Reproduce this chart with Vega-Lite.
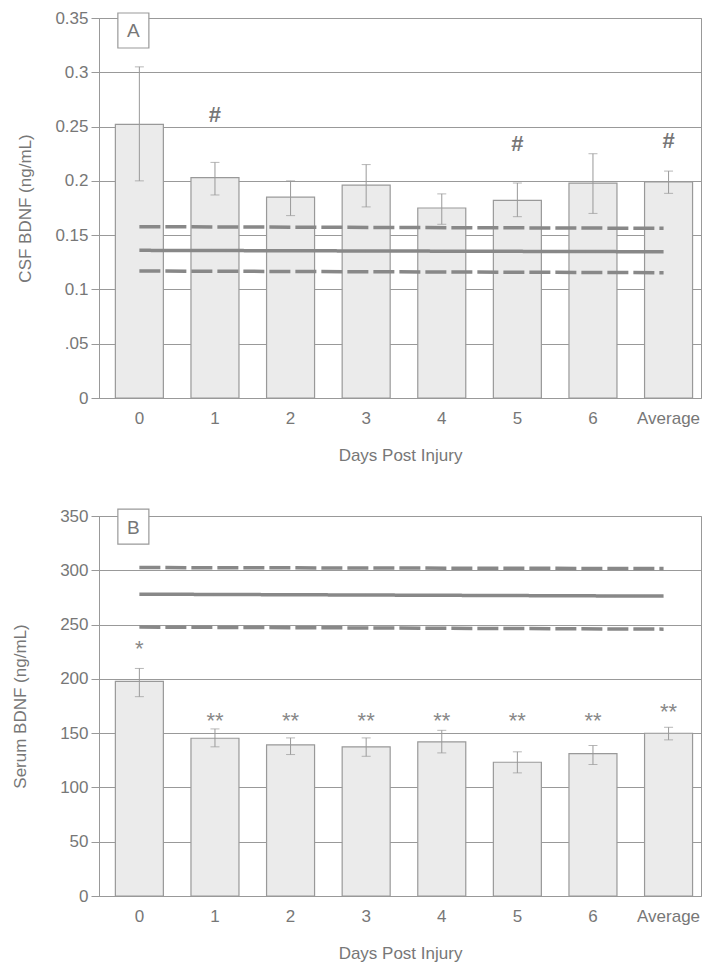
{
  "$schema": "https://vega.github.io/schema/vega-lite/v6.json",
  "padding": {"left": 11, "top": 8, "right": 5, "bottom": 5},
  "spacing": 42,
  "config": {
    "font": "Liberation Sans",
    "view": {"stroke": "#999", "strokeWidth": 1},
    "axis": {
      "labelColor": "#777", "titleColor": "#777",
      "labelFont": "Liberation Sans", "titleFont": "Liberation Sans",
      "labelFontSize": 17, "titleFontSize": 17, "titleFontWeight": "normal",
      "gridColor": "#999", "gridOpacity": 1, "gridWidth": 1,
      "domainColor": "#999", "tickColor": "#999"
    }
  },
  "datasets": {
    "csf": [
      {"day": "0", "mean": 0.252, "lo": 0.200, "hi": 0.305},
      {"day": "1", "mean": 0.203, "lo": 0.187, "hi": 0.217},
      {"day": "2", "mean": 0.185, "lo": 0.168, "hi": 0.200},
      {"day": "3", "mean": 0.196, "lo": 0.176, "hi": 0.215},
      {"day": "4", "mean": 0.175, "lo": 0.160, "hi": 0.188},
      {"day": "5", "mean": 0.182, "lo": 0.167, "hi": 0.198},
      {"day": "6", "mean": 0.198, "lo": 0.170, "hi": 0.225},
      {"day": "Average", "mean": 0.199, "lo": 0.1885, "hi": 0.209}
    ],
    "csf_sig": [
      {"day": "1", "pos": 0.261, "mark": "#"},
      {"day": "5", "pos": 0.2336, "mark": "#"},
      {"day": "Average", "pos": 0.237, "mark": "#"}
    ],
    "csf_lines": [
      {"kind": "limit", "day": "0", "day_end": "Average", "y0": 0.1578, "y1": 0.1563},
      {"kind": "mean", "day": "0", "day_end": "Average", "y0": 0.136, "y1": 0.1347},
      {"kind": "limit", "day": "0", "day_end": "Average", "y0": 0.117, "y1": 0.1154}
    ],
    "csf_label": [{"day": "0", "pos": 0.3385, "label": "A"}],
    "serum": [
      {"day": "0", "mean": 197.7, "lo": 183.6, "hi": 209.6},
      {"day": "1", "mean": 145.3, "lo": 137.4, "hi": 153.9},
      {"day": "2", "mean": 139.2, "lo": 130.3, "hi": 145.6},
      {"day": "3", "mean": 137.4, "lo": 128.7, "hi": 145.6},
      {"day": "4", "mean": 142.0, "lo": 131.8, "hi": 152.6},
      {"day": "5", "mean": 123.2, "lo": 113.4, "hi": 132.8},
      {"day": "6", "mean": 131.2, "lo": 121.1, "hi": 138.6},
      {"day": "Average", "mean": 149.9, "lo": 143.8, "hi": 155.4}
    ],
    "serum_sig": [
      {"day": "0", "pos": 233, "mark": "*"},
      {"day": "1", "pos": 167, "mark": "**"},
      {"day": "2", "pos": 167, "mark": "**"},
      {"day": "3", "pos": 167, "mark": "**"},
      {"day": "4", "pos": 167, "mark": "**"},
      {"day": "5", "pos": 167, "mark": "**"},
      {"day": "6", "pos": 167, "mark": "**"},
      {"day": "Average", "pos": 174.7, "mark": "**"}
    ],
    "serum_lines": [
      {"kind": "limit", "day": "0", "day_end": "Average", "y0": 302.5, "y1": 301.6},
      {"kind": "mean", "day": "0", "day_end": "Average", "y0": 278, "y1": 276.2},
      {"kind": "limit", "day": "0", "day_end": "Average", "y0": 247.7, "y1": 245.8}
    ],
    "serum_label": [{"day": "0", "pos": 340.2, "label": "B"}]
  },
  "vconcat": [
    {
      "width": 602,
      "height": 380,
      "layer": [
        {
          "data": {"name": "csf"},
          "mark": {"type": "bar", "fill": "#ebebeb", "stroke": "#999", "strokeWidth": 1.2},
          "encoding": {
            "x": {
              "field": "day", "type": "ordinal", "sort": null,
              "scale": {"domain": ["0", "1", "2", "3", "4", "5", "6", "Average"], "paddingInner": 0.365, "paddingOuter": 0.164, "align": 0.66},
              "axis": {"title": "Days Post Injury", "labelAngle": 0, "ticks": false, "domain": false, "grid": false, "labelPadding": 12, "titlePadding": 21}
            },
            "y": {
              "field": "mean", "type": "quantitative",
              "scale": {"domain": [0, 0.35], "nice": false, "zero": true},
              "axis": {
                "title": "CSF BDNF (ng/mL)",
                "values": [0, 0.05, 0.1, 0.15, 0.2, 0.25, 0.3, 0.35],
                "labelExpr": "datum.value == 0.05 ? '.05' : format(datum.value, '~g')",
                "tickSize": 8, "labelPadding": 3, "titlePadding": 20, "grid": true, "domain": true
              }
            }
          }
        },
        {
          "data": {"name": "csf"},
          "mark": {"type": "rule", "color": "#999", "strokeWidth": 1},
          "encoding": {
            "x": {"field": "day", "type": "ordinal", "sort": null},
            "y": {"field": "lo", "type": "quantitative"},
            "y2": {"field": "hi"}
          }
        },
        {
          "data": {"name": "csf"},
          "mark": {"type": "tick", "color": "#999", "thickness": 1, "size": 9, "orient": "horizontal"},
          "encoding": {
            "x": {"field": "day", "type": "ordinal", "sort": null},
            "y": {"field": "lo", "type": "quantitative"}
          }
        },
        {
          "data": {"name": "csf"},
          "mark": {"type": "tick", "color": "#999", "thickness": 1, "size": 9, "orient": "horizontal"},
          "encoding": {
            "x": {"field": "day", "type": "ordinal", "sort": null},
            "y": {"field": "hi", "type": "quantitative"}
          }
        },
        {
          "data": {"name": "csf_lines"},
          "mark": {"type": "rule", "color": "#888", "strokeWidth": 3.5, "x2Offset": -5},
          "encoding": {
            "x": {"field": "day", "type": "ordinal", "sort": null},
            "x2": {"field": "day_end"},
            "y": {"field": "y0", "type": "quantitative"},
            "y2": {"field": "y1"},
            "strokeDash": {"field": "kind", "type": "nominal", "scale": {"domain": ["mean", "limit"], "range": [[1, 0], [21, 5]]}, "legend": null}
          }
        },
        {
          "data": {"name": "csf_sig"},
          "mark": {"type": "text", "fontSize": 22, "fontWeight": "bold", "color": "#777", "baseline": "middle"},
          "encoding": {
            "x": {"field": "day", "type": "ordinal", "sort": null},
            "y": {"field": "pos", "type": "quantitative"},
            "text": {"field": "mark"}
          }
        },
        {
          "data": {"name": "csf_label"},
          "mark": {"type": "point", "shape": "M-0.886,-1L0.886,-1L0.886,1L-0.886,1Z", "size": 1225, "filled": true, "fill": "white", "stroke": "#999", "strokeWidth": 1.2, "opacity": 1, "xOffset": -6},
          "encoding": {
            "x": {"field": "day", "type": "ordinal", "sort": null},
            "y": {"field": "pos", "type": "quantitative"}
          }
        },
        {
          "data": {"name": "csf_label"},
          "mark": {"type": "text", "fontSize": 19, "color": "#777", "baseline": "middle", "xOffset": -6, "dy": 1},
          "encoding": {
            "x": {"field": "day", "type": "ordinal", "sort": null},
            "y": {"field": "pos", "type": "quantitative"},
            "text": {"field": "label"}
          }
        }
      ]
    },
    {
      "width": 602,
      "height": 380,
      "layer": [
        {
          "data": {"name": "serum"},
          "mark": {"type": "bar", "fill": "#ebebeb", "stroke": "#999", "strokeWidth": 1.2},
          "encoding": {
            "x": {
              "field": "day", "type": "ordinal", "sort": null,
              "scale": {"domain": ["0", "1", "2", "3", "4", "5", "6", "Average"], "paddingInner": 0.365, "paddingOuter": 0.164, "align": 0.66},
              "axis": {"title": "Days Post Injury", "labelAngle": 0, "ticks": false, "domain": false, "grid": false, "labelPadding": 12, "titlePadding": 21}
            },
            "y": {
              "field": "mean", "type": "quantitative",
              "scale": {"domain": [0, 350], "nice": false, "zero": true},
              "axis": {
                "title": "Serum BDNF (ng/mL)",
                "values": [0, 50, 100, 150, 200, 250, 300, 350],
                "tickSize": 8, "labelPadding": 3, "titlePadding": 30, "grid": true, "domain": true
              }
            }
          }
        },
        {
          "data": {"name": "serum"},
          "mark": {"type": "rule", "color": "#999", "strokeWidth": 1},
          "encoding": {
            "x": {"field": "day", "type": "ordinal", "sort": null},
            "y": {"field": "lo", "type": "quantitative"},
            "y2": {"field": "hi"}
          }
        },
        {
          "data": {"name": "serum"},
          "mark": {"type": "tick", "color": "#999", "thickness": 1, "size": 9, "orient": "horizontal"},
          "encoding": {
            "x": {"field": "day", "type": "ordinal", "sort": null},
            "y": {"field": "lo", "type": "quantitative"}
          }
        },
        {
          "data": {"name": "serum"},
          "mark": {"type": "tick", "color": "#999", "thickness": 1, "size": 9, "orient": "horizontal"},
          "encoding": {
            "x": {"field": "day", "type": "ordinal", "sort": null},
            "y": {"field": "hi", "type": "quantitative"}
          }
        },
        {
          "data": {"name": "serum_lines"},
          "mark": {"type": "rule", "color": "#888", "strokeWidth": 3.5, "x2Offset": -5},
          "encoding": {
            "x": {"field": "day", "type": "ordinal", "sort": null},
            "x2": {"field": "day_end"},
            "y": {"field": "y0", "type": "quantitative"},
            "y2": {"field": "y1"},
            "strokeDash": {"field": "kind", "type": "nominal", "scale": {"domain": ["mean", "limit"], "range": [[1, 0], [21, 5]]}, "legend": null}
          }
        },
        {
          "data": {"name": "serum_sig"},
          "mark": {"type": "text", "fontSize": 22, "color": "#888", "baseline": "middle", "dy": 6},
          "encoding": {
            "x": {"field": "day", "type": "ordinal", "sort": null},
            "y": {"field": "pos", "type": "quantitative"},
            "text": {"field": "mark"}
          }
        },
        {
          "data": {"name": "serum_label"},
          "mark": {"type": "point", "shape": "M-0.886,-1L0.886,-1L0.886,1L-0.886,1Z", "size": 1225, "filled": true, "fill": "white", "stroke": "#999", "strokeWidth": 1.2, "opacity": 1, "xOffset": -6},
          "encoding": {
            "x": {"field": "day", "type": "ordinal", "sort": null},
            "y": {"field": "pos", "type": "quantitative"}
          }
        },
        {
          "data": {"name": "serum_label"},
          "mark": {"type": "text", "fontSize": 19, "color": "#777", "baseline": "middle", "xOffset": -6, "dy": 1},
          "encoding": {
            "x": {"field": "day", "type": "ordinal", "sort": null},
            "y": {"field": "pos", "type": "quantitative"},
            "text": {"field": "label"}
          }
        }
      ]
    }
  ]
}
